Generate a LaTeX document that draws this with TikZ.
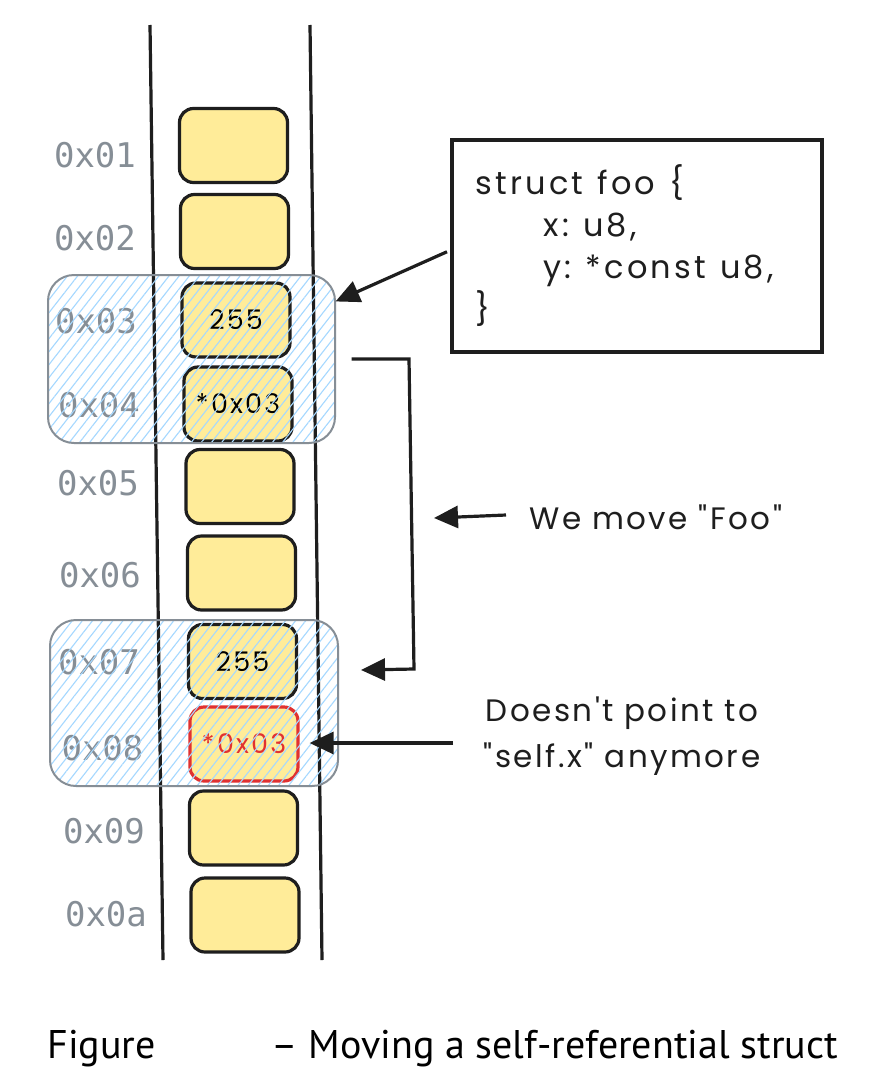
\documentclass[tikz,border=0pt]{standalone}
\usepackage{fontspec}
\setmainfont{PT Sans}
\newfontfamily\hand[LetterSpace=8]{Poppins}
\newfontfamily\handwide[LetterSpace=10]{Poppins}
\newfontfamily\addrfont{DejaVu Sans Mono}
\usetikzlibrary{arrows.meta,patterns.meta,calc}
\definecolor{memfill}{HTML}{FFEC99}
\definecolor{addr}{HTML}{868E96}
\definecolor{hatch}{HTML}{A5D8FF}
\definecolor{rborder}{HTML}{868E96}
\definecolor{ink}{HTML}{1E1E1E}
\definecolor{redink}{HTML}{E03131}
\newcommand{\wgap}{\hspace{14pt}}
\begin{document}
\begin{tikzpicture}[x=1pt,y=-1pt,
  mem/.style={draw=ink, line width=3.2pt, fill=memfill, rounded corners=14pt,
    minimum width=108pt, minimum height=74pt, inner sep=0pt,
    font=\hand\fontsize{27}{30}\selectfont},
  addrlbl/.style={text=addr, font=\addrfont\fontsize{34}{38}\selectfont},
  region/.style={draw=rborder, line width=2pt, rounded corners=26pt,
    pattern={Lines[angle=52,distance=8pt,line width=1.1pt]}, pattern color=hatch,
    inner sep=0pt},
  arr/.style={draw=ink, line width=3.2pt, -{Triangle[length=24pt,width=22pt]}},
  lbl/.style={font=\hand\fontsize{31}{46}\selectfont, text=ink, align=center},
  colline/.style={draw=ink, line width=3.2pt}
]
\useasboundingbox (0,0) rectangle (886,1090);
\fill[white] (0,0) rectangle (886,1090);

% memory column
\coordinate (cl1) at (150,25);
\coordinate (cl2) at (163,960);
\coordinate (cr1) at (310,25);
\coordinate (cr2) at (322,960);
\draw[colline] (cl1) -- (cl2);
\draw[colline] (cr1) -- (cr2);

% memory cells
\node[mem] (m1) at (233.5,145.5) {};
\node[mem] (m2) at (234.5,231.5) {};
\node[mem] (m3) at (236,320) {255};
\node[mem] (m4) at (238,404) {*0x03};
\node[mem] (m5) at (240,486.5) {};
\node[mem] (m6) at (241.5,573) {};
\node[mem] (m7) at (242.5,661.5) {255};
\node[mem, draw=redink, text=redink] (m8) at (244,744) {*0x03};
\node[mem] (m9) at (243.5,828) {};
\node[mem] (m10) at (245,915) {};

% addresses
\node[addrlbl] (a1) at (95,155) {0x01};
\node[addrlbl] (a2) at (95,238) {0x02};
\node[addrlbl] (a3) at (96,321) {0x03};
\node[addrlbl] (a4) at (99,405) {0x04};
\node[addrlbl] (a5) at (98,483) {0x05};
\node[addrlbl] (a6) at (100,575) {0x06};
\node[addrlbl] (a7) at (99,662) {0x07};
\node[addrlbl] (a8) at (102.5,748) {0x08};
\node[addrlbl] (a9) at (104,831) {0x09};
\node[addrlbl] (a10) at (106,914) {0x0a};

% highlighted regions
\node[region, minimum width=287pt, minimum height=168pt] (r1) at (191.5,359) {};
\node[region, minimum width=288pt, minimum height=166pt] (r2) at (194,703) {};

% struct box
\node[draw=ink, line width=3.5pt, minimum width=370pt, minimum height=212pt,
  text width=322pt, inner xsep=24pt, align=left, anchor=north west,
  font=\handwide\fontsize{32}{42}\selectfont, text=ink] (s) at (450,138)
  {struct\wgap foo\wgap\{\\\hspace*{68pt}x:\wgap u8,\\\hspace*{68pt}y:\wgap *const\wgap u8,\\\}};

% labels
\node[lbl, anchor=west] (wm) at (526,517) {We move "Foo"};
\node[lbl] (dp) at (622,736) {Doesn't point to\\"self.x" anymore};

% arrows
\draw[arr] ($(s.west)+(-3,6)$) -- ($(r1.north east)+(0,27)$);
\draw[draw=ink, line width=3.2pt, -{Triangle[length=24pt,width=22pt]}]
  ($(r1.east)+(16,0)$) -- (409,359) -- (414,669) -- ($(r2.east)+(22,-33)$);
\coordinate (wt) at (434,518);
\draw[arr] ($(wm.west)+(-20,-2)$) -- (wt);
\coordinate (ds) at (453,743);
\draw[arr] (ds) -- ($(m8.east)+(10,-1)$);

% caption
\node[anchor=base west, font=\fontsize{40}{48}\selectfont, text=black] (cap) at (44,1058)
  {\makebox[224pt][l]{Figure}– Moving a self-referential struct};
\end{tikzpicture}
\end{document}
